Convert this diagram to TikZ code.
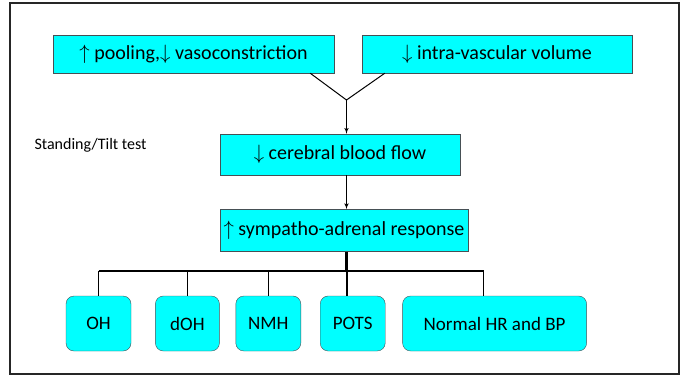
\documentclass[tikz,border=0pt]{standalone}
\usepackage{fontspec}
\setmainfont{Carlito}
\usetikzlibrary{arrows,positioning}
\definecolor{boxcyan}{RGB}{0,255,255}
\definecolor{boxline}{RGB}{70,80,85}

\begin{document}
\begin{tikzpicture}[>=latex', x=1pt, y=1pt]
        \tikzset{block/.style= {draw=boxline, fill=boxcyan, rectangle, align=center, inner sep=0pt, minimum height=38pt, font=\fontsize{20}{24}\selectfont},
        rblock/.style={draw=boxline, fill=boxcyan, rectangle, rounded corners=8pt, align=center, inner sep=0pt, minimum height=55pt, font=\fontsize{19}{23}\selectfont},
        link/.style={draw, line width=1pt},
        stub/.style={draw, line width=1.6pt},
        }
        \useasboundingbox (0,0) rectangle (685,376);
        \draw[line width=1.6pt, black!85] (10,2) rectangle (679,373);
        \node [block, minimum width=281pt] at (193.5,322) (pool) {$\uparrow$ pooling,$\downarrow$ vasoconstriction};
        \node [block, minimum width=270pt] at (497,322) (vol) {$\downarrow$ intra-vascular volume};
        \node [block, minimum width=240pt, minimum height=41pt] at (340,221.5) (cbf) {$\downarrow$ cerebral blood flow};
        \node [block, minimum width=248pt, minimum height=42pt, below=34pt of cbf.south, anchor=north, xshift=4pt] (sym) {$\uparrow$ sympatho-adrenal response};
        \node [anchor=west, font=\fontsize{16}{19}\selectfont] at (31,231) (tilt) {Standing/Tilt test};
        \node [rblock, minimum width=65pt] at (98.5,52.5) (oh) {OH};
        \node [rblock, minimum width=64pt, right=24pt of oh] (doh) {dOH};
        \node [rblock, minimum width=65pt, right=16pt of doh] (nmh) {NMH};
        \node [rblock, minimum width=65pt, right=19pt of nmh] (pots) {POTS};
        \node [rblock, minimum width=184pt, right=17pt of pots] (norm) {Normal HR and BP};
        \coordinate (join) at (346.5,276);
        \coordinate (bar) at (346,105);
%%% paths
        \path[link] ([xshift=-24pt]pool.south east) -- (join) -- ([xshift=23pt]vol.south west);
        \path[link,->] (join) -- (cbf.north -| join);
        \path[link,->] (cbf.south -| join) -- (sym.north -| join);
        \path[draw, line width=3pt] (sym.south -| bar) -- (bar);
        \path[draw, line width=2.2pt] (oh.north |- bar) -- ([xshift=-11pt]norm.north |- bar);
        \path[stub] (oh.north) -- (oh.north |- bar)
                    (doh.north) -- (doh.north |- bar)
                    (nmh.north) -- (nmh.north |- bar)
                    ([xshift=-5.5pt]pots.north) -- ([xshift=-5.5pt]pots.north |- bar)
                    ([xshift=-11pt]norm.north) -- ([xshift=-11pt]norm.north |- bar)
                    ;
    \end{tikzpicture}
\end{document}
